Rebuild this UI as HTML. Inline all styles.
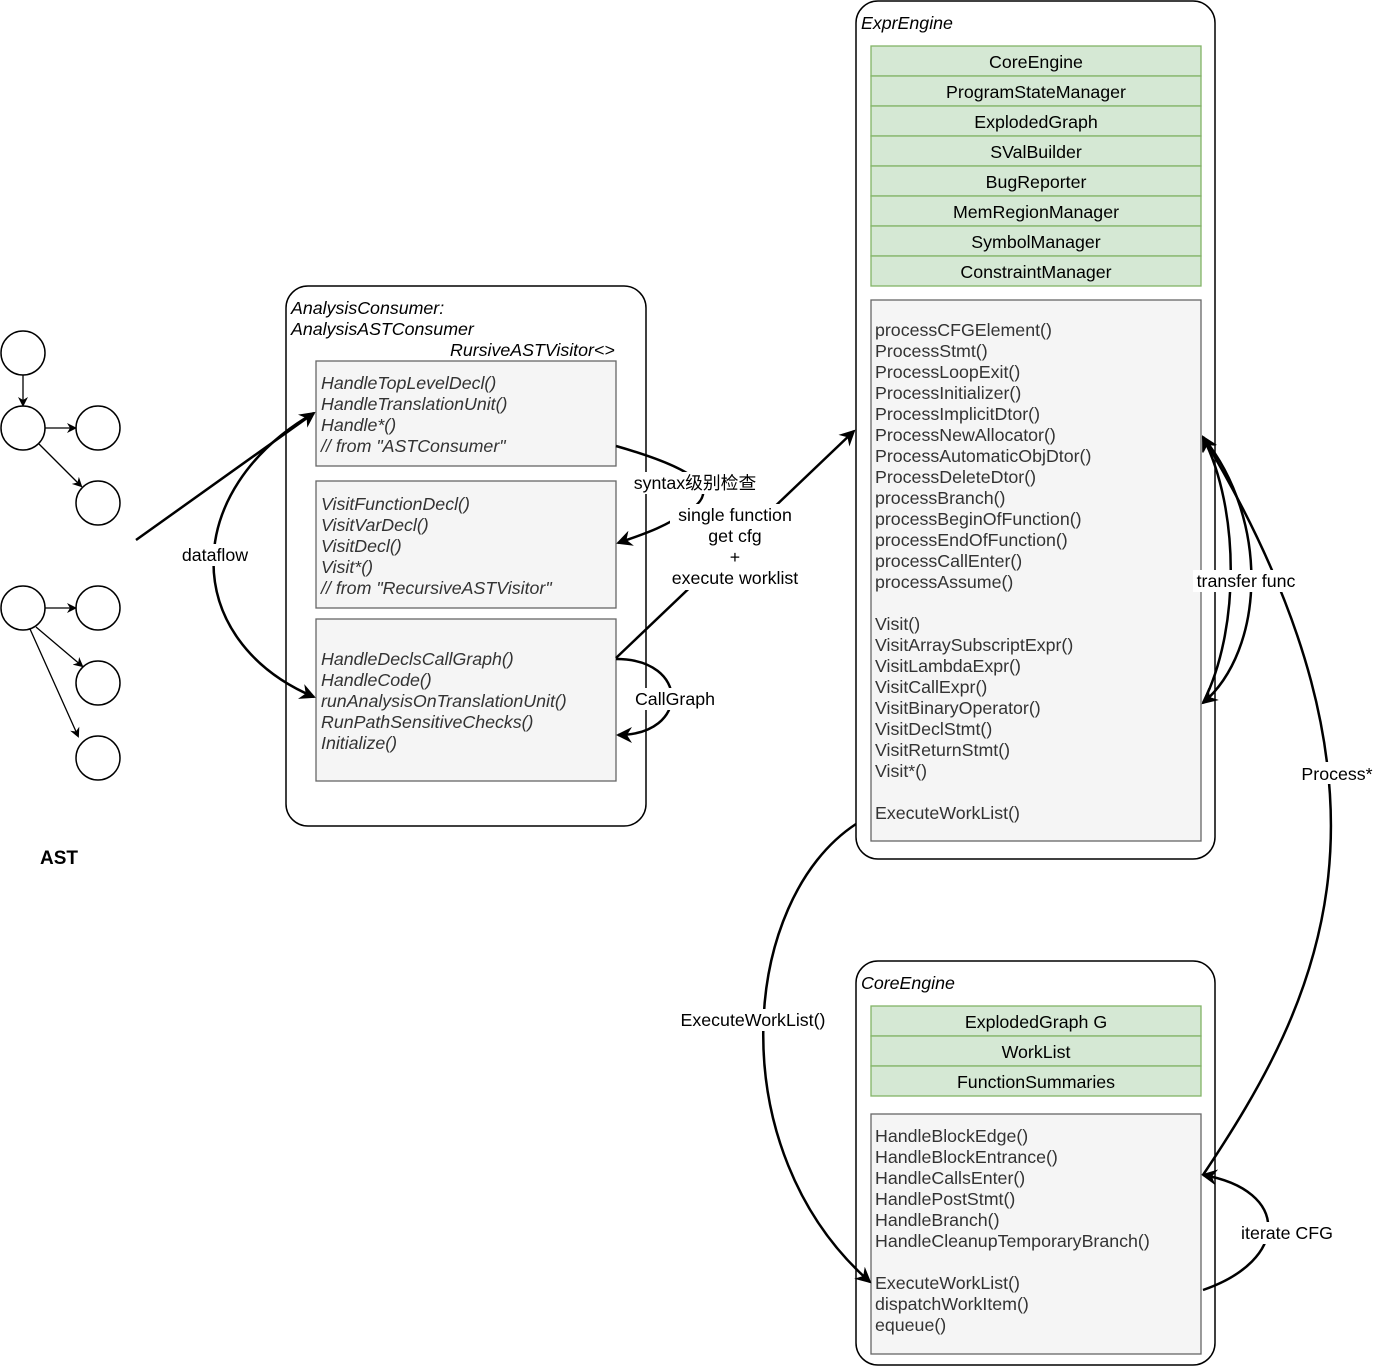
<!DOCTYPE html>
<html><head><meta charset="utf-8"><style>
body{margin:0;background:#fff;}
svg text{font-family:"Liberation Sans","Noto Sans CJK SC",sans-serif;font-size:17.8px;fill:#000;}
.i{font-style:italic;fill:#333;}
.g{fill:#333;}
</style></head><body>
<svg width="1374" height="1367" viewBox="0 0 1374 1367" xmlns="http://www.w3.org/2000/svg">
<defs>
<marker id="a" markerWidth="10" markerHeight="10" refX="8" refY="5" orient="auto" markerUnits="userSpaceOnUse"><path d="M0,0 L10,5 L0,10 L3,5 z" fill="#000"/></marker>
<marker id="b" markerWidth="16" markerHeight="16" refX="14" refY="8" orient="auto" markerUnits="userSpaceOnUse"><path d="M0,0 L16,8 L0,16 L5,8 z" fill="#000"/></marker>
</defs>
<g fill="#fff" stroke="#000" stroke-width="1.5">
<circle cx="23" cy="353" r="22"/><circle cx="23" cy="428" r="22"/><circle cx="98" cy="428" r="22"/><circle cx="98" cy="503" r="22"/>
<circle cx="23" cy="608" r="22"/><circle cx="98" cy="608" r="22"/><circle cx="98" cy="683" r="22"/><circle cx="98" cy="758" r="22"/>
</g>
<g stroke="#000" stroke-width="1.3" fill="none" marker-end="url(#a)">
<line x1="23" y1="375" x2="23" y2="405"/><line x1="45" y1="428" x2="75" y2="428"/><line x1="39" y1="444" x2="81" y2="486"/>
<line x1="45" y1="608" x2="75" y2="608"/><line x1="36" y1="627" x2="82" y2="666"/><line x1="30" y1="629" x2="78" y2="736"/>
</g>
<text x="40" y="864" style="font-weight:bold;font-size:19px">AST</text>

<rect x="286" y="286" width="360" height="540" rx="22" fill="#fff" stroke="#000" stroke-width="1.5"/>
<text x="291" y="314" class="i" style="fill:#000">AnalysisConsumer:</text>
<text x="291" y="335" class="i" style="fill:#000">AnalysisASTConsumer</text>
<text x="450" y="356" class="i" style="fill:#000">RursiveASTVisitor&lt;&gt;</text>
<g fill="#f5f5f5" stroke="#666" stroke-width="1.3">
<rect x="316" y="361" width="300" height="105"/><rect x="316" y="481" width="300" height="127"/><rect x="316" y="619" width="300" height="162"/>
</g>
<text class="i"><tspan x="321" y="389">HandleTopLevelDecl()</tspan><tspan x="321" y="410">HandleTranslationUnit()</tspan><tspan x="321" y="431">Handle*()</tspan><tspan x="321" y="452">// from "ASTConsumer"</tspan></text>
<text class="i"><tspan x="321" y="510">VisitFunctionDecl()</tspan><tspan x="321" y="531">VisitVarDecl()</tspan><tspan x="321" y="552">VisitDecl()</tspan><tspan x="321" y="573">Visit*()</tspan><tspan x="321" y="594">// from "RecursiveASTVisitor"</tspan></text>
<text class="i"><tspan x="321" y="665">HandleDeclsCallGraph()</tspan><tspan x="321" y="686">HandleCode()</tspan><tspan x="321" y="707">runAnalysisOnTranslationUnit()</tspan><tspan x="321" y="728">RunPathSensitiveChecks()</tspan><tspan x="321" y="749">Initialize()</tspan></text>

<rect x="856" y="1" width="359" height="858" rx="22" fill="#fff" stroke="#000" stroke-width="1.5"/>
<text x="861" y="29" class="i" style="fill:#000">ExprEngine</text>
<g fill="#d5e8d4" stroke="#82b366" stroke-width="1.3">
<rect x="871" y="46" width="330" height="30"/><rect x="871" y="76" width="330" height="30"/><rect x="871" y="106" width="330" height="30"/><rect x="871" y="136" width="330" height="30"/>
<rect x="871" y="166" width="330" height="30"/><rect x="871" y="196" width="330" height="30"/><rect x="871" y="226" width="330" height="30"/><rect x="871" y="256" width="330" height="30"/>
</g>
<g text-anchor="middle">
<text x="1036" y="68">CoreEngine</text><text x="1036" y="98">ProgramStateManager</text><text x="1036" y="128">ExplodedGraph</text><text x="1036" y="158">SValBuilder</text>
<text x="1036" y="188">BugReporter</text><text x="1036" y="218">MemRegionManager</text><text x="1036" y="248">SymbolManager</text><text x="1036" y="278">ConstraintManager</text>
</g>
<rect x="871" y="300" width="330" height="541" fill="#f5f5f5" stroke="#666" stroke-width="1.3"/>
<text class="g"><tspan x="875" y="336">processCFGElement()</tspan><tspan x="875" y="357">ProcessStmt()</tspan><tspan x="875" y="378">ProcessLoopExit()</tspan><tspan x="875" y="399">ProcessInitializer()</tspan><tspan x="875" y="420">ProcessImplicitDtor()</tspan><tspan x="875" y="441">ProcessNewAllocator()</tspan><tspan x="875" y="462">ProcessAutomaticObjDtor()</tspan><tspan x="875" y="483">ProcessDeleteDtor()</tspan><tspan x="875" y="504">processBranch()</tspan><tspan x="875" y="525">processBeginOfFunction()</tspan><tspan x="875" y="546">processEndOfFunction()</tspan><tspan x="875" y="567">processCallEnter()</tspan><tspan x="875" y="588">processAssume()</tspan><tspan x="875" y="630">Visit()</tspan><tspan x="875" y="651">VisitArraySubscriptExpr()</tspan><tspan x="875" y="672">VisitLambdaExpr()</tspan><tspan x="875" y="693">VisitCallExpr()</tspan><tspan x="875" y="714">VisitBinaryOperator()</tspan><tspan x="875" y="735">VisitDeclStmt()</tspan><tspan x="875" y="756">VisitReturnStmt()</tspan><tspan x="875" y="777">Visit*()</tspan><tspan x="875" y="819">ExecuteWorkList()</tspan></text>

<rect x="856" y="961" width="359" height="404" rx="22" fill="#fff" stroke="#000" stroke-width="1.5"/>
<text x="861" y="989" class="i" style="fill:#000">CoreEngine</text>
<g fill="#d5e8d4" stroke="#82b366" stroke-width="1.3">
<rect x="871" y="1006" width="330" height="30"/><rect x="871" y="1036" width="330" height="30"/><rect x="871" y="1066" width="330" height="30"/>
</g>
<g text-anchor="middle"><text x="1036" y="1028">ExplodedGraph G</text><text x="1036" y="1058">WorkList</text><text x="1036" y="1088">FunctionSummaries</text></g>
<rect x="871" y="1114" width="330" height="240" fill="#f5f5f5" stroke="#666" stroke-width="1.3"/>
<text class="g"><tspan x="875" y="1142">HandleBlockEdge()</tspan><tspan x="875" y="1163">HandleBlockEntrance()</tspan><tspan x="875" y="1184">HandleCallsEnter()</tspan><tspan x="875" y="1205">HandlePostStmt()</tspan><tspan x="875" y="1226">HandleBranch()</tspan><tspan x="875" y="1247">HandleCleanupTemporaryBranch()</tspan><tspan x="875" y="1289">ExecuteWorkList()</tspan><tspan x="875" y="1310">dispatchWorkItem()</tspan><tspan x="875" y="1331">equeue()</tspan></text>

<g stroke="#000" stroke-width="2.5" fill="none">
<line x1="136" y1="540" x2="314" y2="413" marker-end="url(#b)"/>
<path d="M314,413 C180,490 180,640 314,697" marker-end="url(#b)"/>
<path d="M616,446 C700,470 720,490 690,510 C660,530 640,535 618,543" marker-end="url(#b)"/>
<path d="M616,658 L854,431" marker-end="url(#b)"/>
<path d="M616,659 C690,659 690,735 618,735" marker-end="url(#b)"/>
<path d="M1203,437 C1270,520 1265,650 1203,703" marker-end="url(#b)"/>
<path d="M1203,703 C1240,630 1240,510 1203,437" marker-end="url(#b)"/>
<path d="M1203,1175 C1320,1000 1420,800 1203,437" marker-end="url(#b)"/>
<path d="M856,824 C740,900 720,1150 870,1282" marker-end="url(#b)"/>
<path d="M1203,1290 C1290,1260 1290,1190 1203,1175" marker-end="url(#b)"/>
</g>
<g text-anchor="middle">
<rect x="178" y="544" width="74" height="22" fill="#fff"/><text x="215" y="561">dataflow</text>
<rect x="630" y="472" width="130" height="22" fill="#fff"/><text x="695" y="489">syntax级别检查</text>
<rect x="670" y="504" width="130" height="86" fill="#fff"/>
<text x="735" y="521">single function</text><text x="735" y="542">get cfg</text><text x="735" y="563">+</text><text x="735" y="584">execute worklist</text>
<rect x="632" y="688" width="86" height="22" fill="#fff"/><text x="675" y="705">CallGraph</text>
<rect x="1193" y="570" width="106" height="22" fill="#fff"/><text x="1246" y="587">transfer func</text>
<rect x="1298" y="762" width="78" height="22" fill="#fff"/><text x="1337" y="780">Process*</text>
<rect x="675" y="1009" width="155" height="22" fill="#fff"/><text x="753" y="1026">ExecuteWorkList()</text>
<rect x="1236" y="1222" width="100" height="22" fill="#fff"/><text x="1287" y="1239">iterate CFG</text>
</g>
</svg>
</body></html>
